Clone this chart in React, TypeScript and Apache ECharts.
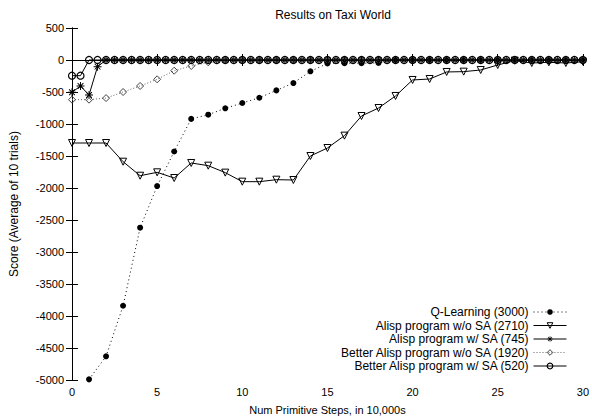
import React, { useEffect, useRef } from "react";
import * as echarts from "echarts";

const xTicks = [0, 5, 10, 15, 20, 25, 30];
const yTicks = [500, 0, -500, -1000, -1500, -2000, -2500, -3000, -3500, -4000, -4500, -5000];

const wholeSteps = [0, 1, 2, 3, 4, 5, 6, 7, 8, 9, 10, 11, 12, 13, 14, 15, 16, 17, 18, 19, 20, 21, 22, 23, 24, 25, 26, 27, 28, 29, 30];
const halfSteps = [0, 0.5, 1, 1.5, 2, 2.5, 3, 3.5, 4, 4.5, 5, 5.5, 6, 6.5, 7, 7.5, 8, 8.5, 9, 9.5, 10, 10.5, 11, 11.5, 12, 12.5, 13, 13.5, 14, 14.5, 15, 15.5, 16, 16.5, 17, 17.5, 18, 18.5, 19, 19.5, 20, 20.5, 21, 21.5, 22, 22.5, 23, 23.5, 24, 24.5, 25, 25.5, 26, 26.5, 27, 27.5, 28, 28.5, 29, 29.5, 30];
const qSteps = [1, 2, 3, 4, 5, 6, 7, 8, 9, 10, 11, 12, 13, 14, 15, 16, 17, 18, 19, 20, 21, 22, 23, 24, 25, 26, 27, 28, 29, 30];

const qLearning = [-4990, -4630, -3840, -2620, -1970, -1430, -920, -855, -755, -672, -590, -475, -360, -177, -55, -50, -50, -45, 0, 0, 0, 0, 0, 0, 0, 0, 0, 0, 0, 0];
const alispNoSA = [-1297, -1297, -1297, -1589, -1808, -1755, -1844, -1609, -1651, -1760, -1901, -1901, -1870, -1875, -1500, -1375, -1182, -875, -750, -562, -312, -297, -187, -182, -156, -78, -10, -47, -36, -47, -26];
const alispSA = [-505, -406, -547, -104, 0, 0, 0, 0, 0, 0, 0, 0, 0, 0, 0, 0, 0, 0, 0, 0, 0, 0, 0, 0, 0, 0, 0, 0, 0, 0, 0, 0, 0, 0, 0, 0, 0, 0, 0, 0, 0, 0, 0, 0, 0, 0, 0, 0, 0, 0, 0, 0, 0, 0, 0, 0, 0, 0, 0, 0, 0];
const betterNoSA = [-620, -620, -595, -500, -406, -302, -167, -94, -36, 0, 0, 0, 0, 0, 0, 0, 0, 0, 0, 0, 0, 0, 0, 0, 0, 0, 0, 0, 0, 0, 0];
const betterSA = [-245, -245, 0, 0, 0, 0, 0, 0, 0, 0, 0, 0, 0, 0, 0, 0, 0, 0, 0, 0, 0, 0, 0, 0, 0, 0, 0, 0, 0, 0, 0, 0, 0, 0, 0, 0, 0, 0, 0, 0, 0, 0, 0, 0, 0, 0, 0, 0, 0, 0, 0, 0, 0, 0, 0, 0, 0, 0, 0, 0, 0];

const names = [
  "Q-Learning (3000)",
  "Alisp program w/o SA (2710)",
  "Alisp program w/ SA (745)",
  "Better Alisp program w/o SA (1920)",
  "Better Alisp program w/ SA (520)",
];

const pair = (xs: number[], ys: number[]) => ys.map((y, i) => [xs[i], y]);

const FONT = "Liberation Sans";
const STAR =
  "path://M-5,-0.6L5,-0.6L5,0.6L-5,0.6Z" +
  "M-0.6,-5L0.6,-5L0.6,5L-0.6,5Z" +
  "M-3.18,-4.02L4.02,3.18L3.18,4.02L-4.02,-3.18Z" +
  "M-4.02,3.18L3.18,-4.02L4.02,-3.18L-3.18,4.02Z";
const CLEAR = "rgba(255,255,255,0)";

const styles = [
  { symbol: "circle", size: 6, rotate: 0, item: { color: "#000", borderColor: "#000", borderWidth: 0 }, line: { color: "#000", width: 1, type: [1, 3] } },
  { symbol: "triangle", size: 7, rotate: 180, item: { color: CLEAR, borderColor: "#000", borderWidth: 1 }, line: { color: "#000", width: 1, type: "solid" } },
  { symbol: STAR, size: 8, rotate: 0, item: { color: "#000", borderColor: "#000", borderWidth: 0 }, line: { color: "#000", width: 1, type: "solid" } },
  { symbol: "diamond", size: 7, rotate: 0, item: { color: CLEAR, borderColor: "#444", borderWidth: 1 }, line: { color: "#666", width: 1, type: [1, 2] } },
  { symbol: "circle", size: 7, rotate: 0, item: { color: CLEAR, borderColor: "#000", borderWidth: 1.2 }, line: { color: "#000", width: 1, type: "solid" } },
];

const seriesData = [
  pair(qSteps, qLearning),
  pair(wholeSteps, alispNoSA),
  pair(halfSteps, alispSA),
  pair(wholeSteps, betterNoSA),
  pair(halfSteps, betterSA),
];

export default function App() {
  const ref = useRef<HTMLDivElement>(null);
  useEffect(() => {
    if (!ref.current) return;
    const chart = echarts.init(ref.current, null, { renderer: "svg" });
    const axisCommon = {
      axisLine: { show: true, lineStyle: { color: "#000", width: 1 } },
      axisTick: { show: true, inside: true, length: 6, lineStyle: { color: "#000" } },
      splitLine: { show: false },
    };
    chart.setOption({
      animation: false,
      backgroundColor: "#fff",
      textStyle: { fontFamily: FONT },
      title: {
        text: "Results on Taxi World",
        left: 328,
        top: 4,
        textAlign: "center",
        textStyle: { fontFamily: FONT, fontSize: 12, fontWeight: "normal", color: "#000" },
      },
      grid: { left: 69, right: 5, top: 28, bottom: 40, containLabel: false },
      legend: {
        orient: "vertical",
        right: 20,
        top: 304,
        align: "right",
        itemWidth: 33,
        itemHeight: 7,
        itemGap: 1.5,
        padding: [2, 5, 2, 5],
        textStyle: { fontFamily: FONT, fontSize: 12, lineHeight: 12, color: "#000" },
        data: names.map((n, i) => ({
          name: n,
          itemStyle: styles[i].item,
          lineStyle: styles[i].line,
        })),
      },
      xAxis: [
        {
          type: "value",
          min: 0,
          max: 30,
          interval: 5,
          name: "Num Primitive Steps, in 10,000s",
          nameLocation: "middle",
          nameGap: 24,
          nameTextStyle: { fontFamily: FONT, fontSize: 11, color: "#000" },
          axisLabel: { fontFamily: FONT, fontSize: 11, color: "#000", margin: 6, formatter: (v: number) => (xTicks.includes(v) ? String(v) : "") },
          ...axisCommon,
        },
        {
          type: "value",
          min: 0,
          max: 30,
          interval: 5,
          position: "top",
          axisLabel: { show: false },
          ...axisCommon,
        },
      ],
      yAxis: [
        {
          type: "value",
          min: -5000,
          max: 500,
          interval: 500,
          name: "Score (Average of 10 trials)",
          nameLocation: "middle",
          nameGap: 52,
          nameTextStyle: { fontFamily: FONT, fontSize: 12, color: "#000" },
          axisLabel: { fontFamily: FONT, fontSize: 11, color: "#000", margin: 8, formatter: (v: number) => (yTicks.includes(v) ? String(v) : "") },
          ...axisCommon,
        },
        {
          type: "value",
          min: -5000,
          max: 500,
          interval: 500,
          position: "right",
          axisLabel: { show: false },
          ...axisCommon,
        },
      ],
      series: names.map((n, i) => ({
        name: n,
        type: "line",
        data: seriesData[i],
        symbol: styles[i].symbol,
        symbolRotate: styles[i].rotate,
        symbolSize: styles[i].size,
        itemStyle: styles[i].item,
        lineStyle: styles[i].line,
        z: 2 + i,
      })),
    });
    return () => chart.dispose();
  }, []);
  return <div ref={ref} style={{ position: "fixed", left: 0, top: 0, width: 592, height: 420 }} />;
}
